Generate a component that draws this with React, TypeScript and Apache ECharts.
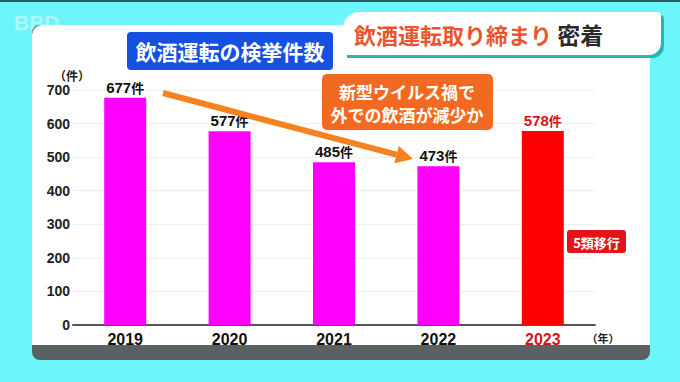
import React, { useEffect, useRef } from "react";
import * as echarts from "echarts";

const years = ["2019", "2020", "2021", "2022", "2023"];
const counts = [677, 577, 485, 473, 578];
const yTicks = [0, 100, 200, 300, 400, 500, 600, 700];
const highlightYear = "2023";
const noteLines = ["新型ウイルス禍で", "外での飲酒が減少か"];

const JP = '"Noto Sans CJK JP", "Noto Sans", sans-serif';
const NUM = '"Liberation Sans", Arial, sans-serif';

export default function App() {
  const ref = useRef<HTMLDivElement>(null);
  useEffect(() => {
    if (!ref.current) return;
    const chart = echarts.init(ref.current, undefined, { renderer: "svg" });
    const magenta = "#ff00ff";
    const red = "#ff0000";
    const redText = "#d8141a";

    // arrow geometry (annotation)
    const ax0 = 163, ay0 = 93, tipX = 413, tipY = 159;
    const dx = tipX - ax0, dy = tipY - ay0;
    const len = Math.sqrt(dx * dx + dy * dy);
    const ux = dx / len, uy = dy / len;
    const bx = tipX - 17 * ux, by = tipY - 17 * uy;
    const px = -uy * 9, py = ux * 9;

    chart.setOption({
      animation: false,
      backgroundColor: "#6cf5fa",
      grid: { left: 73, right: 85, top: 90, bottom: 57 },
      xAxis: {
        type: "category",
        data: years,
        axisLine: { lineStyle: { color: "#555", width: 2 } },
        axisTick: { show: false },
        axisLabel: {
          margin: 6,
          fontFamily: NUM,
          fontSize: 16,
          fontWeight: "bold",
          color: (v: string) => (v === highlightYear ? redText : "#111"),
        },
      },
      yAxis: {
        type: "value",
        min: 0,
        max: yTicks[yTicks.length - 1],
        interval: 100,
        axisLine: { show: false },
        axisTick: { show: false },
        splitLine: { lineStyle: { color: "#eeeeee", width: 1 } },
        axisLabel: {
          margin: 3,
          fontFamily: NUM,
          fontSize: 14,
          fontWeight: "bold",
          color: "#222",
        },
      },
      series: [
        {
          type: "bar",
          barWidth: 42,
          data: counts.map((v, i) => ({
            value: v,
            itemStyle: { color: years[i] === highlightYear ? red : magenta },
            label: {
              color: years[i] === highlightYear ? redText : "#111",
            },
          })),
          label: {
            show: true,
            position: "top",
            distance: 3,
            formatter: "{n|{c}}{u|件}",
            rich: {
              n: { fontFamily: NUM, fontSize: 15, fontWeight: "bold" },
              u: { fontFamily: JP, fontSize: 13, fontWeight: "bold" },
            },
          },
        },
      ],
      graphic: [
        { type: "rect", z: -10, shape: { x: 0, y: 0, width: 680, height: 2 }, style: { fill: "#2b5d68" } },
        {
          type: "text", z: -10, x: 14, y: 12,
          style: { text: "BBD", fontFamily: NUM, fontSize: 21, fontWeight: "bold", fill: "rgba(255,255,255,0.45)" },
        },
        { type: "rect", z: -10, shape: { x: 32, y: 25, width: 618, height: 335, r: 8 }, style: { fill: "#5b6062" } },
        { type: "rect", z: -9, shape: { x: 32, y: 25, width: 618, height: 320, r: [10, 10, 0, 0] }, style: { fill: "#ffffff" } },
        // title tab
        { type: "rect", z: 5, shape: { x: 347, y: 15, width: 317, height: 43, r: [16, 4, 12, 0] }, style: { fill: "#22b7b2" } },
        { type: "rect", z: 6, shape: { x: 343, y: 12, width: 318, height: 43, r: [16, 4, 12, 0] }, style: { fill: "#ffffff" } },
        {
          type: "text", z: 7, x: 354, y: 34,
          style: {
            text: "{a|飲酒運転取り締まり}{b| 密着}",
            verticalAlign: "middle",
            rich: {
              a: { fontFamily: JP, fontSize: 22, fontWeight: "bold", fill: "#e9552c" },
              b: { fontFamily: JP, fontSize: 23, fontWeight: "bold", fill: "#2a2a2a" },
            },
          },
        },
        // blue label
        { type: "rect", z: 5, shape: { x: 127, y: 32, width: 206, height: 38, r: 4 }, style: { fill: "#1550e0" } },
        {
          type: "text", z: 6, x: 230, y: 51,
          style: { text: "飲酒運転の検挙件数", align: "center", verticalAlign: "middle", fontFamily: JP, fontSize: 21, fontWeight: "bold", fill: "#ffffff" },
        },
        // y unit
        {
          type: "text", z: 6, x: 72, y: 75,
          style: { text: "（件）", align: "center", verticalAlign: "middle", fontFamily: JP, fontSize: 12, fontWeight: "bold", fill: "#222" },
        },
        // x unit
        {
          type: "text", z: 6, x: 603, y: 338,
          style: { text: "（年）", align: "center", verticalAlign: "middle", fontFamily: JP, fontSize: 11, fontWeight: "bold", fill: "#222" },
        },
        // arrow
        {
          type: "line", z: 8,
          shape: { x1: ax0, y1: ay0, x2: bx, y2: by },
          style: { stroke: "#f5821f", lineWidth: 6 },
        },
        {
          type: "polygon", z: 8,
          shape: { points: [[tipX, tipY], [bx + px, by + py], [bx - px, by - py]] },
          style: { fill: "#f5821f" },
        },
        // orange note
        { type: "rect", z: 9, shape: { x: 322, y: 74, width: 171, height: 56, r: 5 }, style: { fill: "#f26a22" } },
        {
          type: "text", z: 10, x: 407, y: 91,
          style: {
            text: noteLines[0],
            align: "center", verticalAlign: "middle", lineHeight: 20,
            fontFamily: JP, fontSize: 17, fontWeight: "bold", fill: "#ffffff",
          },
        },
        {
          type: "text", z: 10, x: 407, y: 114,
          style: {
            text: noteLines[1],
            align: "center", verticalAlign: "middle", lineHeight: 20,
            fontFamily: JP, fontSize: 17, fontWeight: "bold", fill: "#ffffff",
          },
        },
        // red note
        { type: "rect", z: 9, shape: { x: 567, y: 230, width: 59, height: 23, r: 3 }, style: { fill: "#e3141b" } },
        {
          type: "text", z: 10, x: 596.5, y: 242,
          style: { text: "5類移行", align: "center", verticalAlign: "middle", fontFamily: JP, fontSize: 13, fontWeight: "bold", fill: "#ffffff" },
        },
      ],
    });
    return () => chart.dispose();
  }, []);
  return <div ref={ref} style={{ width: 680, height: 382, position: "absolute", left: 0, top: 0 }} />;
}
